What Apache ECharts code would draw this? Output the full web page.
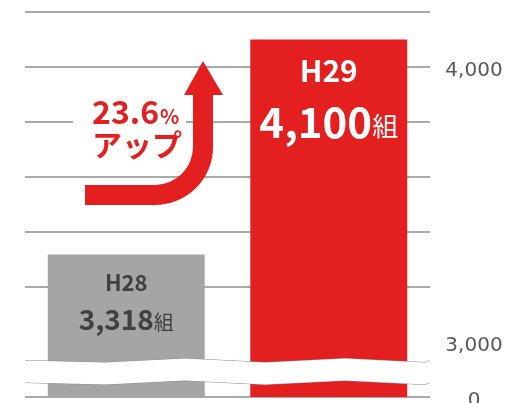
<!DOCTYPE html>
<html>
<head>
<meta charset="utf-8">
<script src="https://cdn.jsdelivr.net/npm/echarts@6.0.0/dist/echarts.min.js"></script>
<style>
html, body { margin: 0; padding: 0; background: #fff; }
#chart { width: 511px; height: 403px; }
</style>
</head>
<body>
<div id="chart"></div>
<script>
// 組数の比較
var categories = ['H28', 'H29'];
var values = [3318, 4100];
var barColors = ['#a5a5a5', '#e31f1f'];
var labelTicks = [0, 3000, 4000];
var unit = '組';

var FONT = '"Noto Sans CJK JP", "Noto Sans", sans-serif';
var RED = '#e31f1f';

// 伸び率
var growth = ((values[1] / values[0] - 1) * 100).toFixed(1);

function fmt(v) {
    return v.toString().replace(/\B(?=(\d{3})+(?!\d))/g, ',');
}

var chart = echarts.init(document.getElementById('chart'));

var seriesData = values.map(function (v, i) {
    var big = i === 1;
    var txt = big ? '#ffffff' : '#404040';
    return {
        value: v,
        itemStyle: { color: barColors[i] },
        label: {
            show: true,
            position: 'insideTop',
            distance: 9,
            formatter: '{h|' + categories[i] + '}\n{v|' + fmt(v) + '}{u|' + unit + '}',
            rich: {
                h: { fontFamily: FONT, fontWeight: 'bold', fontSize: big ? 30 : 22, color: txt, lineHeight: big ? 44 : 38 },
                v: { fontFamily: FONT, fontWeight: 'bold', fontSize: big ? 42 : 28, color: txt, lineHeight: big ? 60 : 36 },
                u: { fontFamily: FONT, fontSize: big ? 26 : 20, color: txt, padding: [big ? 8 : 6, 0, 0, 0], lineHeight: big ? 60 : 36 }
            }
        }
    };
});

var option = {
    animation: false,
    grid: { left: 25, right: 81, top: 12, bottom: 6, outerBoundsMode: 'none' },
    xAxis: {
        type: 'category',
        data: categories,
        axisLine: { show: false },
        axisTick: { show: false },
        axisLabel: { show: false }
    },
    yAxis: {
        type: 'value',
        position: 'right',
        min: 0,
        max: 4200,
        interval: 200,
        breaks: [{ start: 55, end: 2935, gap: 80 }],
        breakArea: {
            show: true,
            itemStyle: { color: '#ffffff', borderColor: '#8a8a8a', borderWidth: 1, borderType: 'solid', opacity: 1 },
            zigzagAmplitude: 2,
            zigzagMinSpan: 80,
            zigzagMaxSpan: 80,
            zigzagZ: 100,
            expandOnClick: false
        },
        breakLabelLayout: { moveOverlap: false },
        axisLine: { show: false },
        axisTick: { show: false },
        splitLine: { lineStyle: { color: '#aaaaaa', width: 2 } },
        axisLabel: {
            customValues: labelTicks,
            hideOverlap: false,
            showMinLabel: true,
            margin: 44,
            align: 'center',
            formatter: function (v) {
                return '{t|' + fmt(v) + '}';
            },
            rich: {
                t: { color: '#595959', fontFamily: 'DejaVu Sans', fontSize: 20, padding: [8, 0, 0, 0] }
            }
        }
    },
    series: [{
        type: 'bar',
        barWidth: '77.5%',
        data: seriesData
    }],
    graphic: [
        // 文字の下地
        { type: 'rect', shape: { x: 73, y: 100, width: 113, height: 58 }, style: { fill: '#ffffff' }, z: 10 },
        // 矢印
        { type: 'rect', shape: { x: 85, y: 185, width: 71, height: 20 }, style: { fill: RED }, z: 11 },
        { type: 'sector', shape: { cx: 155, cy: 147, r0: 38, r: 58, startAngle: 0, endAngle: Math.PI / 2, clockwise: true }, style: { fill: RED }, z: 11 },
        { type: 'rect', shape: { x: 193, y: 94, width: 20, height: 54 }, style: { fill: RED }, z: 11 },
        { type: 'polygon', shape: { points: [[184, 95], [203, 61], [223, 95]] }, style: { fill: RED }, z: 11 },
        {
            type: 'text',
            x: 92,
            y: 96,
            style: {
                text: '{a|' + growth + '}{b|%}',
                rich: {
                    a: { fontFamily: FONT, fontWeight: 'bold', fontSize: 32, fill: RED },
                    b: { fontFamily: FONT, fontWeight: 'bold', fontSize: 20, fill: RED, padding: [8, 0, 0, 1] }
                }
            },
            z: 12
        },
        {
            type: 'text',
            x: 92,
            y: 130,
            style: {
                text: 'アップ',
                fontFamily: FONT,
                fontWeight: 'bold',
                fontSize: 30,
                fill: RED
            },
            z: 12
        }
    ]
};

chart.setOption(option);
</script>
</body>
</html>
